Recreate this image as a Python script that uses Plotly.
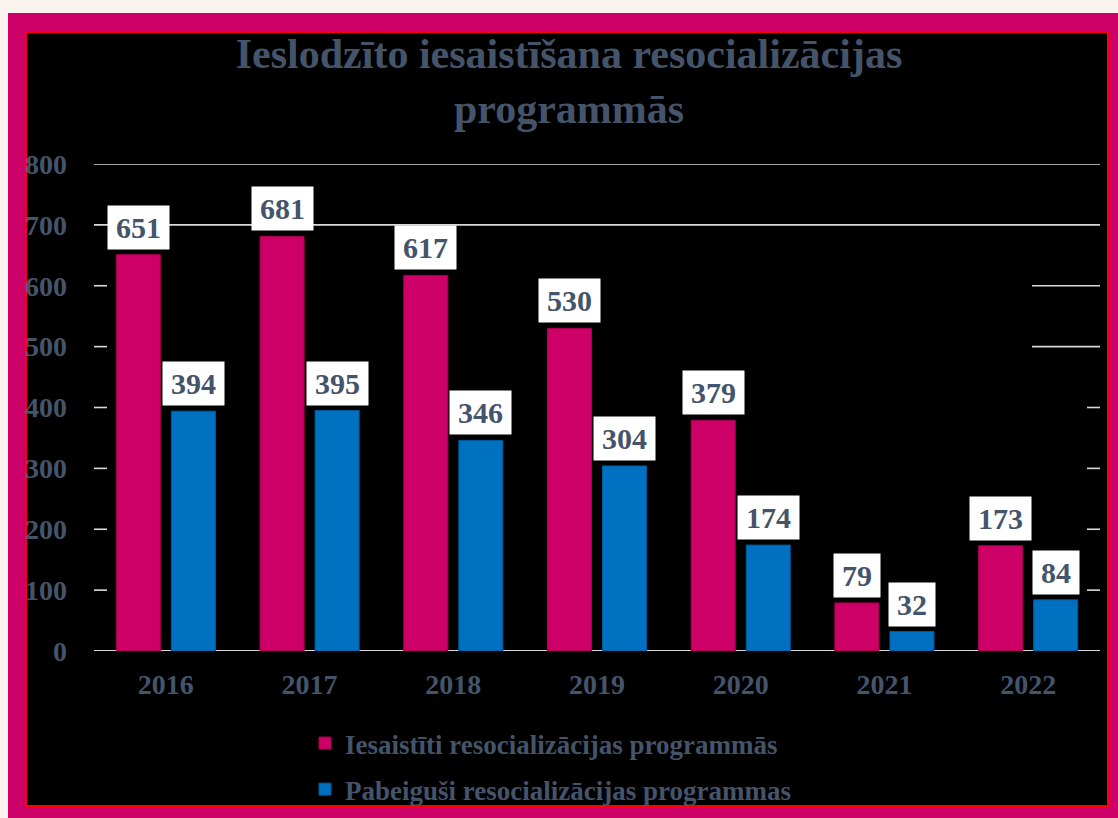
import plotly.graph_objects as go

years = ["2016", "2017", "2018", "2019", "2020", "2021", "2022"]
engaged = [651, 681, 617, 530, 379, 79, 173]
completed = [394, 395, 346, 304, 174, 32, 84]
series_names = ["Iesaistīti resocializācijas programmās", "Pabeiguši resocializācijas programmas"]
y_ticks = [0, 100, 200, 300, 400, 500, 600, 700, 800]
title_text = "Ieslodzīto iesaistīšana resocializācijas<br>programmās"

W, H = 1118, 818
ML, MR, MT, MB = 94, 18, 164, 167
PW = W - ML - MR
PH = H - MT - MB

def px_x(p):
    return (p - ML) / PW

def px_y(p):
    return (H - MB - p) / PH

TXT = "#44546A"
FONT = "Liberation Serif"
MAG = "#CC0066"
BLUE = "#0070C0"

fig = go.Figure()
fig.add_trace(go.Bar(x=years, y=engaged, name=series_names[0], marker=dict(color=MAG, line=dict(color="#A8004F", width=1)), legendgroup="a"))
fig.add_trace(go.Bar(x=years, y=completed, name=series_names[1], marker=dict(color=BLUE, line=dict(color="#005A9C", width=1)), legendgroup="b"))

shapes = []
# page frame
shapes.append(dict(type="rect", xref="paper", yref="paper", x0=px_x(0), x1=px_x(W), y0=px_y(0), y1=px_y(13), fillcolor="#FBF3EE", line=dict(width=0), layer="below"))
shapes.append(dict(type="rect", xref="paper", yref="paper", x0=px_x(0), x1=px_x(8), y0=px_y(0), y1=px_y(H), fillcolor="#FBF3EE", line=dict(width=0), layer="below"))
shapes.append(dict(type="rect", xref="paper", yref="paper", x0=px_x(26), x1=px_x(1108), y0=px_y(32), y1=px_y(806), fillcolor="black", line=dict(color="#FF0000", width=2), layer="below"))

# gridlines (partially visible as in the reference)
GRID = "#D9D9D9"
for v in y_ticks:
    if v in (0, 700, 800):
        segs = [(0, 1)]
    elif v in (500, 600):
        segs = [(0, px_x(107)), (px_x(1032), 1)]
    else:
        segs = [(0, px_x(107)), (px_x(1087), 1)]
    for a, b in segs:
        shapes.append(dict(type="line", xref="paper", yref="y", x0=a, x1=b, y0=v, y1=v, line=dict(color=GRID, width=2 if v == 0 else 1.6), layer="below"))

annotations = []
for vals, shift in ((engaged, -27.5), (completed, 27.5)):
    for i, v in enumerate(vals):
        annotations.append(dict(x=i, y=v, xref="x", yref="y", text=str(v), showarrow=False,
                                xshift=shift, yshift=5, yanchor="bottom", bgcolor="white", borderpad=5,
                                width=len(str(v)) * 15 + 6,
                                font=dict(family=FONT, size=30, color=TXT, weight="bold")))

fig.update_layout(
    width=W, height=H,
    margin=dict(l=ML, r=MR, t=MT, b=MB, pad=0, autoexpand=False),
    paper_bgcolor=MAG,
    plot_bgcolor="black",
    barmode="group", bargap=0.234, bargroupgap=0.2,
    title=dict(text=title_text, x=569 / W, xanchor="center", y=1 - 68 / H, yanchor="top",
               font=dict(family=FONT, size=42, color=TXT, weight="bold")),
    xaxis=dict(type="category", range=[-0.5, len(years) - 0.5], showgrid=False, showline=False, zeroline=False,
               ticks="", ticklabelstandoff=14, automargin=False,
               tickfont=dict(family=FONT, size=28, color=TXT, weight="bold")),
    yaxis=dict(range=[0, 800], tickvals=y_ticks, showgrid=False, showline=False, zeroline=False, ticks="",
               automargin=False, ticklabelstandoff=26, tickfont=dict(family=FONT, size=28, color=TXT, weight="bold")),
    legend=dict(x=px_x(305), xanchor="left", y=px_y(719), yanchor="top", bgcolor="rgba(0,0,0,0)",
                font=dict(family=FONT, size=27, color=TXT, weight="bold"), traceorder="grouped", tracegroupgap=8),
    shapes=shapes,
    annotations=annotations,
    showlegend=True,
)

fig.write_html("out.html", config={"displayModeBar": False}, post_script="document.body.style.margin='0';")
